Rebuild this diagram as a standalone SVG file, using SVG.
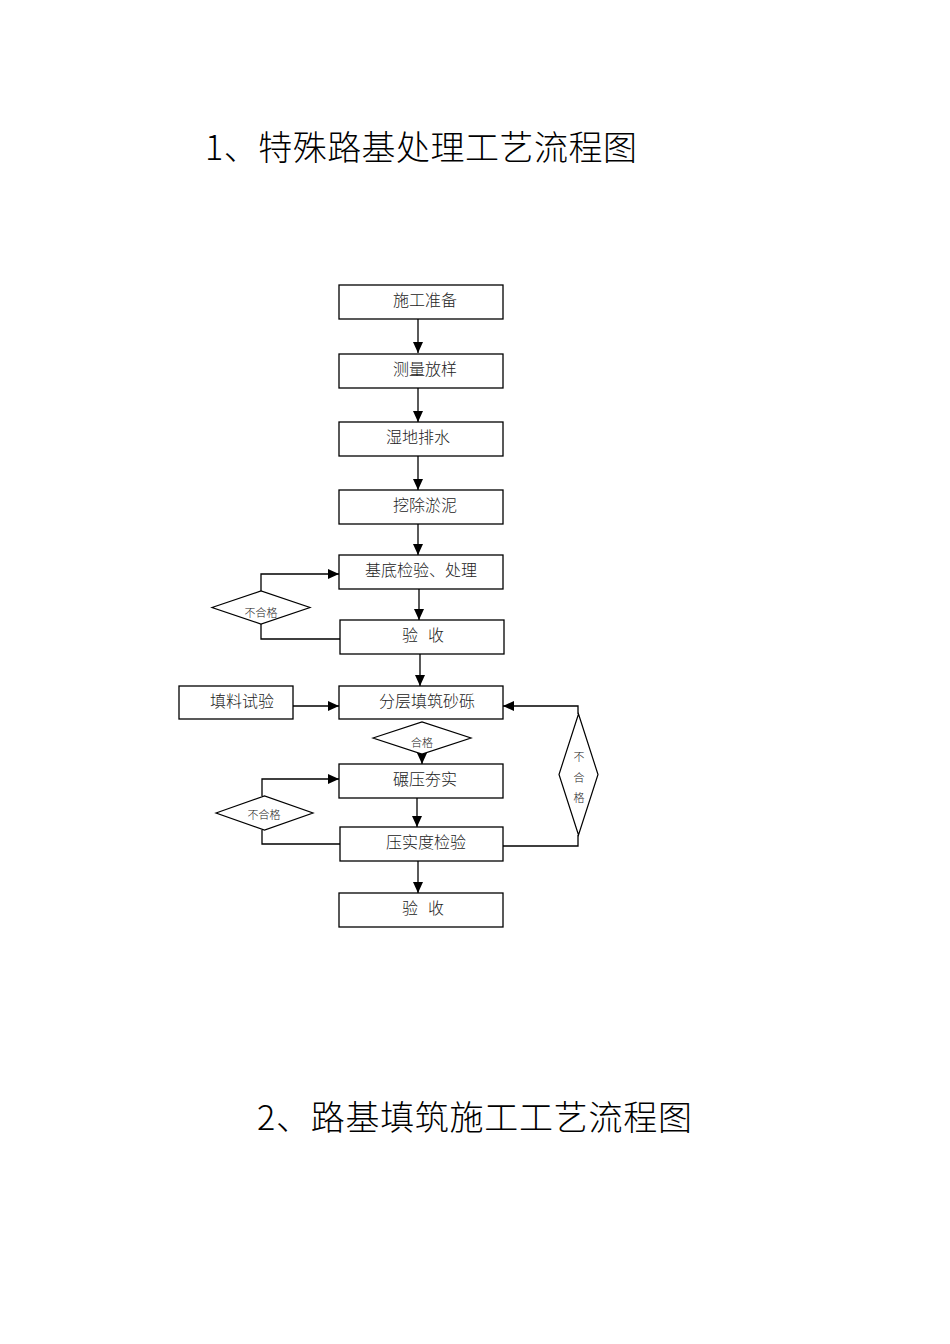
<svg xmlns="http://www.w3.org/2000/svg" width="950" height="1344" viewBox="0 0 950 1344">
<defs>
<marker id="arr" markerUnits="userSpaceOnUse" markerWidth="12" markerHeight="10" refX="11" refY="5" orient="auto">
<path d="M0,0 L11,5 L0,10 Z" fill="#000"/>
</marker>
<style>
.box{fill:#fff;stroke:#000;stroke-width:1.3}
.dia{fill:#fff;stroke:#000;stroke-width:1.2}
.ln{fill:none;stroke:#000;stroke-width:1.3}
.t{font-family:"Noto Sans CJK SC","Liberation Serif",serif;font-size:16px;font-weight:300;fill:#222;text-anchor:middle}
.s{font-family:"Noto Sans CJK SC","Liberation Serif",serif;font-size:11px;font-weight:300;fill:#222;text-anchor:middle}
.h{font-family:"Noto Sans CJK SC","Liberation Serif",serif;font-size:34px;font-weight:300;fill:#000}
</style>
</defs>
<rect width="950" height="1344" fill="#fff"/>
<text class="h" x="205" y="160" textLength="432" lengthAdjust="spacing">1、特殊路基处理工艺流程图</text>
<text class="h" x="257" y="1130" textLength="435" lengthAdjust="spacing">2、路基填筑施工工艺流程图</text>

<g id="connectors">
<line class="ln" x1="418" y1="319" x2="418" y2="353" marker-end="url(#arr)"/>
<line class="ln" x1="418" y1="388" x2="418" y2="422" marker-end="url(#arr)"/>
<line class="ln" x1="418" y1="456" x2="418" y2="490" marker-end="url(#arr)"/>
<line class="ln" x1="418" y1="524" x2="418" y2="555" marker-end="url(#arr)"/>
<line class="ln" x1="419" y1="589" x2="419" y2="620" marker-end="url(#arr)"/>
<line class="ln" x1="420" y1="654" x2="420" y2="686" marker-end="url(#arr)"/>
<polyline class="ln" points="261,591 261,574 339,574" marker-end="url(#arr)"/>
<polyline class="ln" points="261,624 261,639 340,639"/>
<line class="ln" x1="293" y1="706" x2="339" y2="706" marker-end="url(#arr)"/>
<line class="ln" x1="422" y1="754" x2="422" y2="764" marker-end="url(#arr)"/>
<line class="ln" x1="417" y1="798" x2="417" y2="827" marker-end="url(#arr)"/>
<line class="ln" x1="418" y1="861" x2="418" y2="893" marker-end="url(#arr)"/>
<polyline class="ln" points="262,796 262,779 339,779" marker-end="url(#arr)"/>
<polyline class="ln" points="262,830 262,844 340,844"/>
<polyline class="ln" points="578,714 578,706 503,706" marker-end="url(#arr)"/>
<polyline class="ln" points="503,846 578,846 578,835"/>
</g>

<g id="n1"><rect class="box" x="339" y="285" width="164" height="34"/><text class="t" x="425" y="306">施工准备</text></g>
<g id="n2"><rect class="box" x="339" y="354" width="164" height="34"/><text class="t" x="425" y="375">测量放样</text></g>
<g id="n3"><rect class="box" x="339" y="422" width="164" height="34"/><text class="t" x="418" y="443">湿地排水</text></g>
<g id="n4"><rect class="box" x="339" y="490" width="164" height="34"/><text class="t" x="425" y="511">挖除淤泥</text></g>
<g id="n5"><rect class="box" x="339" y="555" width="164" height="34"/><text class="t" x="421" y="576">基底检验、处理</text></g>
<g id="n6"><rect class="box" x="340" y="620" width="164" height="34"/><text class="t" x="423" y="641"><tspan x="410">验</tspan><tspan x="436">收</tspan></text></g>
<g id="d1"><polygon class="dia" points="212,607.5 261,591 310,607.5 261,624"/><text class="s" x="261" y="617">不合格</text></g>
<g id="n7"><rect class="box" x="179" y="686" width="114" height="33"/><text class="t" x="242" y="707">填料试验</text></g>
<g id="n8"><rect class="box" x="339" y="686" width="164" height="33"/><text class="t" x="427" y="707">分层填筑砂砾</text></g>
<g id="d2"><polygon class="dia" points="373,738 422,722 471,738 422,754"/><text class="s" x="422" y="747">合格</text></g>
<g id="n9"><rect class="box" x="339" y="764" width="164" height="34"/><text class="t" x="425" y="785">碾压夯实</text></g>
<g id="d3"><polygon class="dia" points="216,813 264.5,796 313,813 264.5,830"/><text class="s" x="264" y="819">不合格</text></g>
<g id="n10"><rect class="box" x="340" y="827" width="163" height="34"/><text class="t" x="426" y="848">压实度检验</text></g>
<g id="d4"><polygon class="dia" points="578.5,714 598,774.5 578.5,835 559,774.5"/>
<text class="s" x="579" y="761">不</text><text class="s" x="579" y="782">合</text><text class="s" x="579" y="802">格</text></g>
<g id="n11"><rect class="box" x="339" y="893" width="164" height="34"/><text class="t" x="422" y="914"><tspan x="410">验</tspan><tspan x="436">收</tspan></text></g>
</svg>
